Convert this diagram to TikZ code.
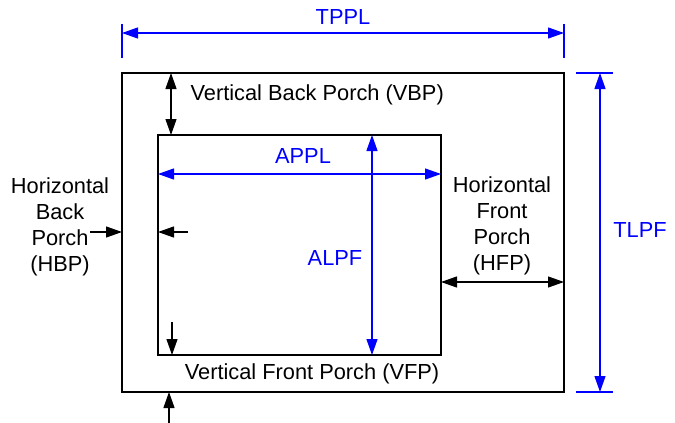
\documentclass[tikz,border=0pt]{standalone}
\usepackage{fontspec}
\setmainfont{Liberation Sans}
\usetikzlibrary{arrows.meta}
\begin{document}
\begin{tikzpicture}[x=0.5pt,y=-0.5pt,line width=0.6pt,
    >={Triangle[length=8pt,width=5.5pt]},
    font=\fontsize{10.9}{13}\selectfont,
    txt/.style={inner sep=0pt,align=center},
    dim/.style={blue,line width=0.6pt}]
\useasboundingbox (0,0) rectangle (675,423);
% frames
\coordinate (outerNW) at (122,73);
\coordinate (outerSE) at (564,392);
\coordinate (innerNW) at (158,135);
\coordinate (innerSE) at (441,355);
\draw[line width=0.65pt] (outerNW) rectangle (outerSE);
\draw[line width=0.65pt] (innerNW) rectangle (innerSE);

% total sizes
\coordinate (tpplL) at (122,33);
\coordinate (tpplR) at (564,33);
\draw[dim] (122,24) -- (122,58);
\draw[dim] (564,24) -- (564,58);
\draw[dim,<->] (tpplL) -- (tpplR);
\node[txt,blue] (tppl) at (343,17) {TPPL};

\coordinate (tlpfT) at (600,73);
\coordinate (tlpfB) at (600,392);
\draw[dim] (576,73) -- (613,73);
\draw[dim] (576,392) -- (613,392);
\draw[dim,<->] (tlpfT) -- (tlpfB);
\node[txt,blue] (tlpf) at (640,230) {TLPF};

% active sizes
\coordinate (applL) at (158,174);
\coordinate (applR) at (441,174);
\draw[dim,<->] (applL) -- (applR);
\node[txt,blue] (appl) at (303,156) {APPL};

\coordinate (alpfT) at (372,135);
\coordinate (alpfB) at (372,355);
\draw[dim,<->] (alpfT) -- (alpfB);
\node[txt,blue] (alpf) at (335,258) {ALPF};

% porches
\node[txt,anchor=west] (vbp) at (190,95) {Vertical Back Porch (VBP)};
\coordinate (vbpT) at (171,73);
\coordinate (vbpB) at (171,135);
\draw[<->] (vbpT) -- (vbpB);

\node[txt] (vfp) at (312,374) {Vertical Front Porch (VFP)};
\coordinate (vfpA) at (172,322);
\coordinate (vfpB) at (172,355);
\coordinate (vfpC) at (169,423);
\coordinate (vfpD) at (169,392);
\draw[->] (vfpA) -- (vfpB);
\draw[->] (vfpC) -- (vfpD);

\node[txt] (hbp) at (60,227) {Horizontal\\Back\\Porch\\(HBP)};
\coordinate (hbpA) at (90,232);
\coordinate (hbpB) at (122,232);
\coordinate (hbpC) at (188,232);
\coordinate (hbpD) at (158,232);
\draw[->] (hbpA) -- (hbpB);
\draw[->] (hbpC) -- (hbpD);

\node[txt] (hfp) at (502,226) {Horizontal\\Front\\Porch\\(HFP)};
\coordinate (hfpL) at (441,282);
\coordinate (hfpR) at (564,282);
\draw[<->] (hfpL) -- (hfpR);
\end{tikzpicture}
\end{document}
